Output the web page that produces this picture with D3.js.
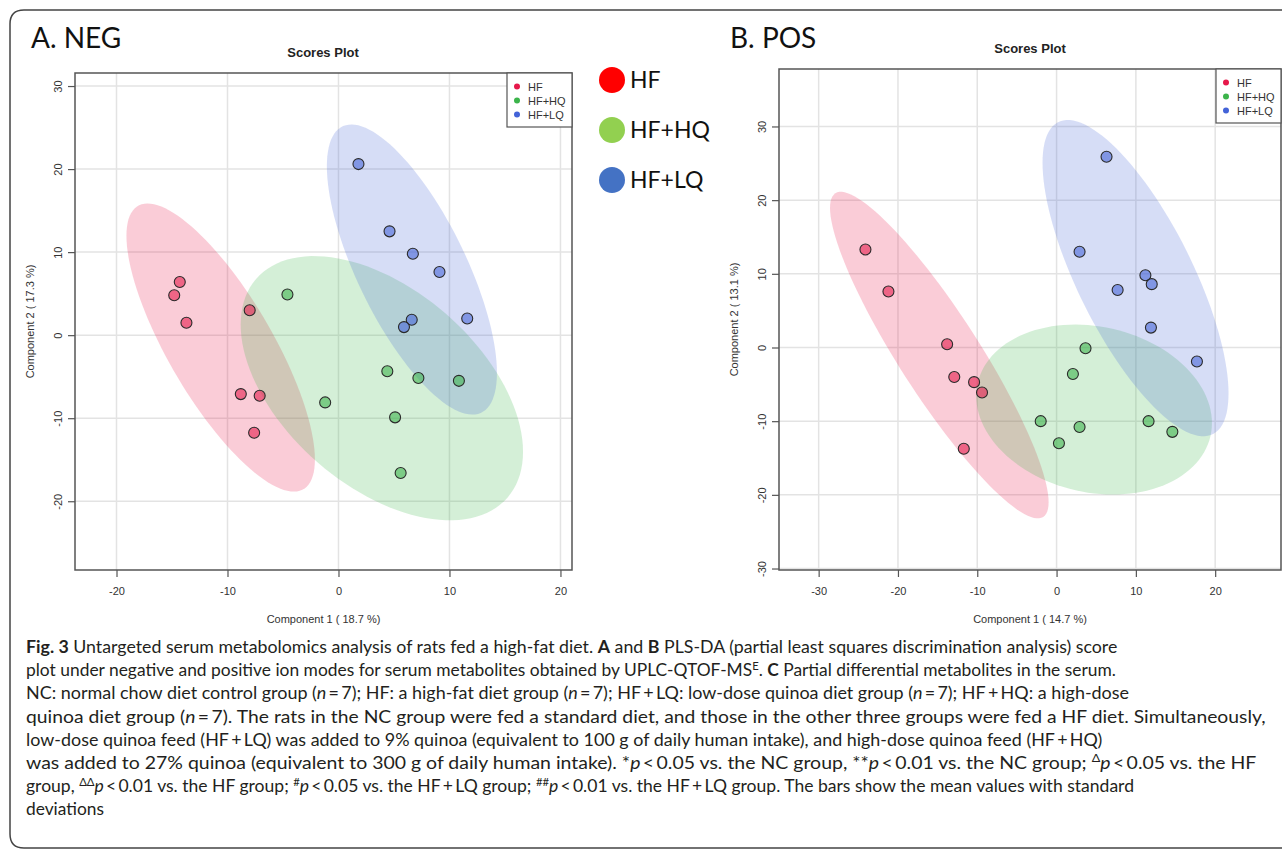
<!DOCTYPE html>
<html>
<head>
<meta charset="utf-8">
<script src="https://cdn.jsdelivr.net/npm/d3@7"></script>
<style>
  body { margin: 0; background: #fff; }
  svg { display: block; }
</style>
</head>
<body>
<script>
// groups and colours (MetaboAnalyst palette)
const groups = ["HF", "HF+HQ", "HF+LQ"];
const groupColors = ["#e6194b", "#3cb44b", "#4363d8"];

// A. NEG scores, [component 1, component 2]
const negHF = [[-14.3, 6.4], [-14.8, 4.8], [-13.7, 1.5], [-8.0, 3.0], [-8.8, -7.1], [-7.1, -7.3], [-7.6, -11.75]];
const negHQ = [[-4.6, 4.9], [4.4, -4.35], [7.2, -5.15], [10.85, -5.5], [-1.2, -8.1], [5.1, -9.9], [5.6, -16.6]];
const negLQ = [[1.8, 20.6], [4.6, 12.5], [6.7, 9.8], [9.1, 7.6], [6.6, 1.85], [5.9, 0.97], [11.6, 2.0]];

// B. POS scores
const posHF = [[-24.1, 13.3], [-21.2, 7.6], [-13.8, 0.45], [-12.9, -4.0], [-10.4, -4.7], [-9.4, -6.1], [-11.7, -13.75]];
const posHQ = [[3.65, -0.1], [2.06, -3.6], [-2.0, -10.0], [2.9, -10.8], [0.3, -13.0], [11.6, -10.0], [14.6, -11.45]];
const posLQ = [[6.3, 25.9], [2.9, 13.0], [11.2, 9.8], [12.0, 8.6], [7.7, 7.8], [11.9, 2.7], [17.7, -1.9]];

// ticks and axis titles
const negXTicks = [-20, -10, 0, 10, 20];
const negYTicks = [-20, -10, 0, 10, 20, 30];
const posXTicks = [-30, -20, -10, 0, 10, 20];
const posYTicks = [-30, -20, -10, 0, 10, 20, 30];
const negAxisTitles = ["Component 1 ( 18.7 %)", "Component 2 ( 17.3 %)"];
const posAxisTitles = ["Component 1 ( 14.7 %)", "Component 2 ( 13.1 %)"];

// big legend in the middle
const bigLegendColors = ["#ff0000", "#92d050", "#4472c4"];

// caption, one entry per printed line: [text, style]
const caption = [
  [["Fig. 3", "b"], ["  Untargeted serum metabolomics analysis of rats fed a high-fat diet. ", ""], ["A", "b"], [" and ", ""], ["B", "b"], [" PLS-DA (partial least squares discrimination analysis) score", ""]],
  [["plot under negative and positive ion modes for serum metabolites obtained by UPLC-QTOF-MS", ""], ["E", "sup"], [". ", ""], ["C", "b"], [" Partial differential metabolites in the serum.", ""]],
  [["NC: normal chow diet control group (", ""], ["n", "i"], ["\u2009=\u20097); HF: a high-fat diet group (", ""], ["n", "i"], ["\u2009=\u20097); HF\u2009+\u2009LQ: low-dose quinoa diet group (", ""], ["n", "i"], ["\u2009=\u20097); HF\u2009+\u2009HQ: a high-dose", ""]],
  [["quinoa diet group (", ""], ["n", "i"], ["\u2009=\u20097). The rats in the NC group were fed a standard diet, and those in the other three groups were fed a HF diet. Simultaneously,", ""]],
  [["low-dose quinoa feed (HF\u2009+\u2009LQ) was added to 9% quinoa (equivalent to 100 g of daily human intake), and high-dose quinoa feed (HF\u2009+\u2009HQ)", ""]],
  [["was added to 27% quinoa (equivalent to 300 g of daily human intake). *", ""], ["p", "i"], ["\u2009<\u20090.05 vs. the NC group, **", ""], ["p", "i"], ["\u2009<\u20090.01 vs. the NC group; ", ""], ["\u0394", "sup"], ["p", "i"], ["\u2009<\u20090.05 vs. the HF", ""]],
  [["group, ", ""], ["\u0394\u0394", "sup"], ["p", "i"], ["\u2009<\u20090.01 vs. the HF group; ", ""], ["#", "sup"], ["p", "i"], ["\u2009<\u20090.05 vs. the HF\u2009+\u2009LQ group; ", ""], ["##", "sup"], ["p", "i"], ["\u2009<\u20090.01 vs. the HF\u2009+\u2009LQ group. The bars show the mean values with standard", ""]],
  [["deviations", ""]]
];
const captionLineEnds = [1118, 1117, 1130, 1266, 1103, 1257, 1135, 104];

const W = 1282, H = 850;
const svg = d3.select("body").append("svg").attr("width", W).attr("height", H);

// outer rounded frame
svg.append("path")
  .attr("d", "M1300,10 H24 Q10,10 10,24 V834 Q10,848 24,848 H1300")
  .attr("fill", "none").attr("stroke", "#444").attr("stroke-width", 1.5);

const axisFont = "'Liberation Sans', Arial, sans-serif";
const labelFont = "Lato, 'Open Sans', sans-serif";

// 95% confidence ellipse from a group's points
function ellipse(pts) {
  const n = pts.length;
  const mx = d3.mean(pts, d => d[0]), my = d3.mean(pts, d => d[1]);
  const sxx = d3.sum(pts, d => (d[0] - mx) ** 2) / (n - 1);
  const syy = d3.sum(pts, d => (d[1] - my) ** 2) / (n - 1);
  const sxy = d3.sum(pts, d => (d[0] - mx) * (d[1] - my)) / (n - 1);
  const a = Math.sqrt(sxx), b = sxy / a, c = Math.sqrt(syy - b * b);
  const t = Math.sqrt(-2 * Math.log(0.05));
  return d3.range(120).map(i => {
    const th = 2 * Math.PI * i / 120, u = Math.cos(th), v = Math.sin(th);
    return [mx + t * a * u, my + t * (b * u + c * v)];
  });
}

function drawPanel(cfg) {
  const x = d3.scaleLinear().domain(cfg.xDomain).range([cfg.left, cfg.right]);
  const y = d3.scaleLinear().domain(cfg.yDomain).range([cfg.bottom, cfg.top]);
  const g = svg.append("g");

  g.append("clipPath").attr("id", cfg.id + "-clip")
    .append("rect").attr("x", cfg.left).attr("y", cfg.top)
    .attr("width", cfg.right - cfg.left).attr("height", cfg.bottom - cfg.top);

  const plot = g.append("g").attr("clip-path", `url(#${cfg.id}-clip)`);

  // grid
  plot.selectAll(".gx").data(cfg.xTicks).join("line")
    .attr("x1", d => x(d)).attr("x2", d => x(d))
    .attr("y1", cfg.top).attr("y2", cfg.bottom)
    .attr("stroke", "#e3e3e3").attr("stroke-width", 1.5);
  plot.selectAll(".gy").data(cfg.yTicks).join("line")
    .attr("y1", d => y(d)).attr("y2", d => y(d))
    .attr("x1", cfg.left).attr("x2", cfg.right)
    .attr("stroke", "#e3e3e3").attr("stroke-width", 1.5);

  // ellipses
  const line = d3.line().x(d => x(d[0])).y(d => y(d[1])).curve(d3.curveLinearClosed);
  plot.selectAll(".ell").data(cfg.series).join("path")
    .attr("d", d => line(ellipse(d)))
    .attr("fill", (d, i) => groupColors[i]).attr("fill-opacity", 0.22)
    .attr("stroke", "none");

  // points
  cfg.series.forEach((s, i) => {
    plot.selectAll(null).data(s).join("circle")
      .attr("cx", d => x(d[0])).attr("cy", d => y(d[1])).attr("r", 5.5)
      .attr("fill", groupColors[i]).attr("fill-opacity", 0.58)
      .attr("stroke", "#2a2a2a").attr("stroke-width", 1.1);
  });

  // box
  g.append("rect").attr("x", cfg.left).attr("y", cfg.top)
    .attr("width", cfg.right - cfg.left).attr("height", cfg.bottom - cfg.top)
    .attr("fill", "none").attr("stroke", "#555").attr("stroke-width", 1.5);

  // axes
  const fmt = d => String(d);
  const xa = g.append("g").attr("transform", `translate(0,${cfg.bottom})`)
    .call(d3.axisBottom(x).tickValues(cfg.xTicks).tickSize(7).tickPadding(10).tickFormat(fmt));
  const ya = g.append("g").attr("transform", `translate(${cfg.left},0)`)
    .call(d3.axisLeft(y).tickValues(cfg.yTicks).tickSize(7).tickFormat(fmt));
  [xa, ya].forEach(a => {
    a.select(".domain").remove();
    a.selectAll("line").attr("stroke", "#555").attr("stroke-width", 1.2);
    a.selectAll("text").attr("fill", "#333").style("font-family", axisFont).style("font-size", "11px");
  });
  ya.selectAll("text").attr("transform", "rotate(-90)")
    .attr("x", 0).attr("y", -13).attr("dy", 0).attr("text-anchor", "middle");

  // axis titles
  g.append("text").attr("x", (cfg.left + cfg.right) / 2 + cfg.xTitleDx).attr("y", cfg.bottom + 53)
    .attr("text-anchor", "middle").attr("fill", "#333")
    .style("font-family", axisFont).style("font-size", "11px").text(cfg.axisTitles[0]);
  g.append("text").attr("transform", `translate(${cfg.left - 41},${(cfg.top + cfg.bottom) / 2}) rotate(-90)`)
    .attr("text-anchor", "middle").attr("fill", "#333")
    .style("font-family", axisFont).style("font-size", "11px").text(cfg.axisTitles[1]);

  // plot title
  g.append("text").attr("x", cfg.titleX).attr("y", cfg.top - 16)
    .attr("text-anchor", "middle").attr("fill", "#222")
    .style("font-family", axisFont).style("font-size", "13px").style("font-weight", "bold")
    .text("Scores Plot");

  // panel label
  g.append("text").attr("x", cfg.labelX).attr("y", 48).attr("fill", "#111")
    .style("font-family", labelFont).style("font-size", "28px").text(cfg.label);

  // small legend
  const lg = g.append("g");
  lg.append("rect").attr("x", cfg.right - 65).attr("y", cfg.top)
    .attr("width", 65).attr("height", 54)
    .attr("fill", "#fff").attr("stroke", "#555").attr("stroke-width", 1.2);
  groups.forEach((name, i) => {
    const yy = cfg.top + 13.5 + i * 14;
    lg.append("circle").attr("cx", cfg.right - 55).attr("cy", yy).attr("r", 3).attr("fill", groupColors[i]);
    lg.append("text").attr("x", cfg.right - 44).attr("y", yy + 4).attr("fill", "#333")
      .style("font-family", axisFont).style("font-size", "11px").text(name);
  });
}

drawPanel({
  id: "neg", label: "A. NEG", labelX: 31, titleX: 323, xTitleDx: 0,
  left: 75, right: 572, top: 73, bottom: 570,
  xDomain: [-23.74, 21.04], yDomain: [-28.28, 31.57],
  xTicks: negXTicks, yTicks: negYTicks, axisTitles: negAxisTitles,
  series: [negHF, negHQ, negLQ]
});

drawPanel({
  id: "pos", label: "B. POS", labelX: 730, titleX: 1030, xTitleDx: 0,
  left: 779, right: 1281, top: 69, bottom: 570,
  xDomain: [-35.0, 28.3], yDomain: [-30.2, 37.8],
  xTicks: posXTicks, yTicks: posYTicks, axisTitles: posAxisTitles,
  series: [posHF, posHQ, posLQ]
});

// big legend
const big = svg.append("g");
groups.forEach((name, i) => {
  const yy = 80 + i * 50;
  big.append("circle").attr("cx", 612).attr("cy", yy).attr("r", 13).attr("fill", bigLegendColors[i]);
  big.append("text").attr("x", 630).attr("y", yy + 8).attr("fill", "#111")
    .style("font-family", labelFont).style("font-size", "23px").text(name);
});

// caption
const cap = svg.append("g");
caption.forEach((segs, li) => {
  const t = cap.append("text").attr("x", 0).attr("y", 0)
    .attr("fill", "#231f20")
    .style("font-family", labelFont).style("font-size", "17px");
  segs.forEach(([txt, st]) => {
    const sp = t.append("tspan").text(txt);
    if (st === "b") sp.style("font-weight", "bold");
    if (st === "i") sp.style("font-style", "italic");
    if (st === "sup") sp.attr("baseline-shift", "super").style("font-size", "11px");
  });
  const w = t.node().getComputedTextLength();
  const sx = (captionLineEnds[li] - 26) / w;
  t.attr("transform", `translate(26,${653 + li * 23.2}) scale(${sx},1)`);
});
</script>
</body>
</html>
